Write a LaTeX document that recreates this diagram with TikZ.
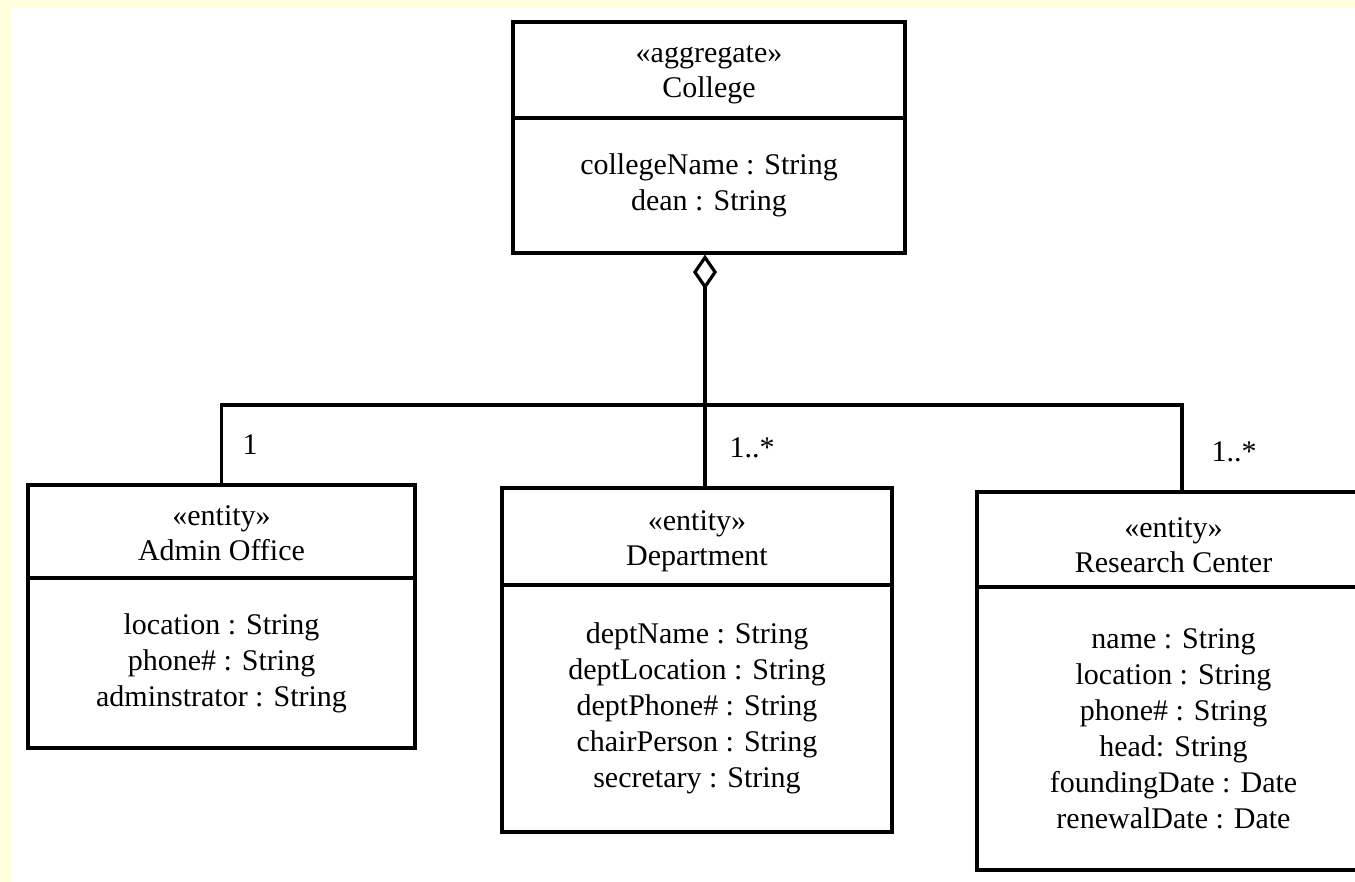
\documentclass[tikz,border=0pt]{standalone}
\usepackage{fontspec}
\setmainfont{Liberation Serif}
\usetikzlibrary{arrows.meta}
\definecolor{pagecream}{RGB}{255,255,221}
\tikzset{
  link/.style={line width=3.2pt},
  aggr/.style={link, {Diamond[open, length=35pt, width=24pt]}-},
  classbox/.style={draw, line width=3.2pt, inner sep=0pt, align=center,
    font=\fontsize{30}{36}\selectfont},
  headtext/.style={inner sep=0pt, align=center, font=\fontsize{30}{35}\selectfont},
  mult/.style={font=\fontsize{30}{36}\selectfont, inner sep=0pt}
}
\begin{document}
\begin{tikzpicture}[x=1pt, y=-1pt]
  % page background with the cream strips on top and left
  \fill[pagecream] (0,0) rectangle (1355,882);
  \fill[white] (11,8) rectangle (1355,882);
  \useasboundingbox (0,0) rectangle (1355,882);

  % College
  \node[classbox, minimum width=392pt, minimum height=96pt] (collegeHead) at (709,70) {};
  \node[headtext] (collegeName) at (709,75) {«aggregate»\\College};
  \node[classbox, minimum width=392pt, minimum height=135pt] (collegeBody) at (709,185.5)
    {collegeName : String\\dean : String};

  % Admin Office
  \node[classbox, minimum width=387pt, minimum height=93pt] (adminHead) at (221.5,531.5) {};
  \node[headtext] (adminName) at (221.5,533) {«entity»\\Admin Office};
  \node[classbox, minimum width=387pt, minimum height=170pt] (adminBody) at (221.5,663)
    {location : String\\phone\# : String\\adminstrator : String};

  % Department
  \node[classbox, minimum width=390pt, minimum height=97pt] (deptHead) at (697,536.5) {};
  \node[headtext] (deptName) at (697,541) {«entity»\\Department};
  \node[classbox, minimum width=390pt, minimum height=247pt] (deptBody) at (697,708.5)
    {deptName : String\\deptLocation : String\\deptPhone\# : String\\chairPerson : String\\secretary : String};

  % Research Center
  \node[classbox, minimum width=393pt, minimum height=95pt] (rcHead) at (1173.5,539.5) {};
  \node[headtext] (rcName) at (1173.5,545) {«entity»\\Research Center};
  \node[classbox, minimum width=393pt, minimum height=283pt] (rcBody) at (1173.5,728.5)
    {name : String\\location : String\\phone\# : String\\head: String\\foundingDate : Date\\renewalDate : Date};

  % aggregation tree
  \coordinate (hub) at (705,405);
  \coordinate (rcLine) at (1182,405);
  \draw[aggr] (collegeBody.south -| hub) -- (hub);
  \draw[link] (adminHead.north) |- (rcLine) -- (rcLine |- rcHead.north);
  \draw[link] (hub) -- (hub |- deptHead.north);

  % multiplicities
  \node[mult] (multAdmin) at (250,445) {1};
  \node[mult] (multDept) at (752,448) {1..*};
  \node[mult] (multRc) at (1234,452) {1..*};
\end{tikzpicture}
\end{document}
